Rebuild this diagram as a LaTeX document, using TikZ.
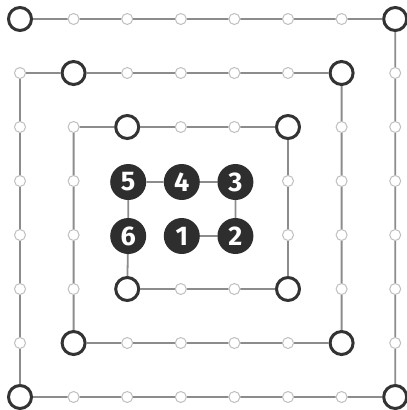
\documentclass[tikz,border=0pt]{standalone}
\usepackage{fontspec}
\newfontfamily\numfont{Fira Sans}
\begin{document}
\begin{tikzpicture}[x=1pt,y=-1pt,
  big/.style={circle,draw=black!80,line width=3pt,fill=white,minimum size=23pt,inner sep=0pt},
  small/.style={circle,draw=black!25,line width=1pt,fill=white,minimum size=11pt,inner sep=0pt},
  num/.style={circle,fill=black!82,minimum size=36pt,inner sep=0pt,text=white,font=\numfont\fontsize{27}{27}\selectfont\bfseries},
  conn/.style={draw=black!45,line width=1.8pt}]
\useasboundingbox (0,0) rectangle (407,410);
\fill[white] (0,0) rectangle (407,410);
% small circles
\foreach \j/\cols in {0/{1,2,3,4,5,6},1/{0,2,3,4,5,7},2/{0,1,3,4,6,7},3/{0,1,5,6,7},4/{0,1,5,6,7},5/{0,1,3,4,6,7},6/{0,2,3,4,5,7},7/{1,2,3,4,5,6}}{
  \foreach \i in \cols {
    \node[small] (n-\i-\j) at ({20+53.6*\i},{19+54*\j}) {};
  }
}
% big circles
\foreach \i/\j in {0/0,7/0,1/1,6/1,2/2,5/2,2/5,5/5,1/6,6/6,0/7,7/7}{
  \node[big] (n-\i-\j) at ({20+53.6*\i},{19+54*\j}) {};
}
% numbered circles
\foreach \i/\j/\t in {3/4/1,4/4/2,4/3/3,3/3/4,2/3/5,2/4/6}{
  \node[num] (n-\i-\j) at ({21+53.6*\i},{20+54*\j}) {\t};
}
% connectors
\draw[conn] (n-3-4)--(n-4-4)--(n-4-3)--(n-3-3)--(n-2-3)--(n-2-4)--(n-2-5)
  --(n-3-5)--(n-4-5)--(n-5-5)--(n-5-4)--(n-5-3)--(n-5-2)--(n-4-2)--(n-3-2)--(n-2-2)
  --(n-1-2)--(n-1-3)--(n-1-4)--(n-1-5)--(n-1-6)--(n-2-6)--(n-3-6)--(n-4-6)--(n-5-6)--(n-6-6)
  --(n-6-5)--(n-6-4)--(n-6-3)--(n-6-2)--(n-6-1)--(n-5-1)--(n-4-1)--(n-3-1)--(n-2-1)--(n-1-1)
  --(n-0-1)--(n-0-2)--(n-0-3)--(n-0-4)--(n-0-5)--(n-0-6)--(n-0-7)
  --(n-1-7)--(n-2-7)--(n-3-7)--(n-4-7)--(n-5-7)--(n-6-7)--(n-7-7)
  --(n-7-6)--(n-7-5)--(n-7-4)--(n-7-3)--(n-7-2)--(n-7-1)--(n-7-0)
  --(n-6-0)--(n-5-0)--(n-4-0)--(n-3-0)--(n-2-0)--(n-1-0)--(n-0-0);
\end{tikzpicture}
\end{document}
